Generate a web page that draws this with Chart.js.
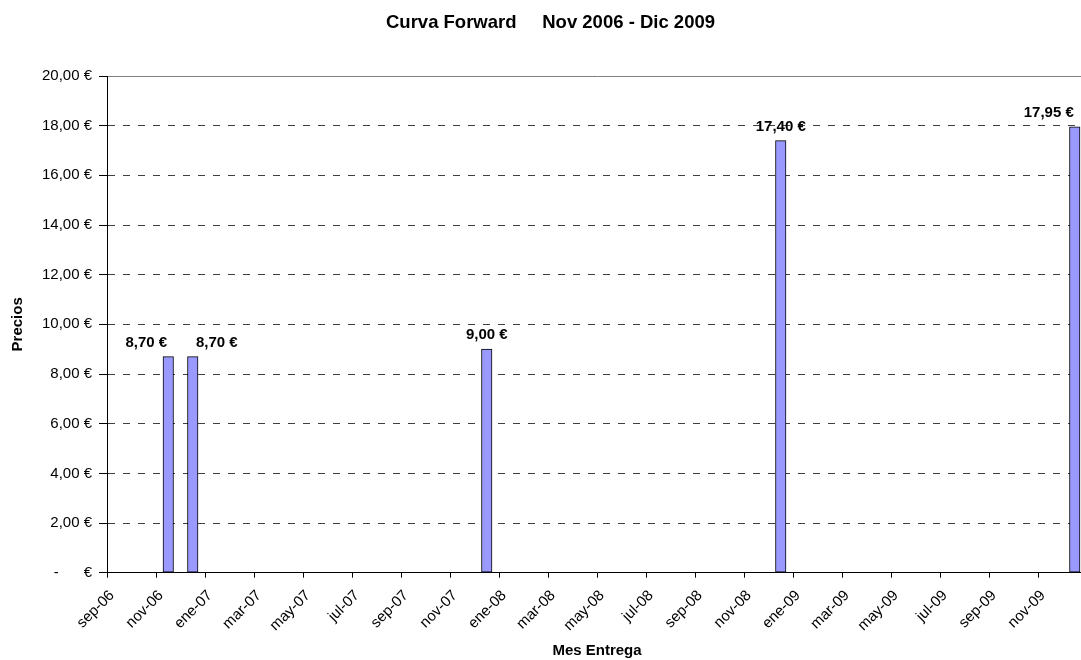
<!DOCTYPE html>
<html>
<head>
<meta charset="utf-8">
<script src="https://cdn.jsdelivr.net/npm/chart.js@4/dist/chart.umd.min.js"></script>
<style>
  html, body { margin: 0; padding: 0; background: #fff; overflow: hidden; }
  #wrap { width: 1081px; height: 660px; overflow: hidden; }
  canvas { display: block; }
</style>
</head>
<body>
<div id="wrap"><canvas id="chart" width="1100" height="660"></canvas></div>
<script>
// Delivery months and forward prices (EUR)
const deliveryMonths = ['nov-06', 'dic-06', 'dic-07', 'dic-08', 'dic-09'];
const prices = [8.70, 8.70, 9.00, 17.40, 17.95];

// Bottom axis labels, one every two months starting at sep-06
const monthTickLabels = ['sep-06', 'nov-06', 'ene-07', 'mar-07', 'may-07', 'jul-07', 'sep-07', 'nov-07',
  'ene-08', 'mar-08', 'may-08', 'jul-08', 'sep-08', 'nov-08', 'ene-09', 'mar-09', 'may-09', 'jul-09',
  'sep-09', 'nov-09'];

const chartTitle = 'Curva Forward     Nov 2006 - Dic 2009';

const monthNames = ['ene', 'feb', 'mar', 'abr', 'may', 'jun', 'jul', 'ago', 'sep', 'oct', 'nov', 'dic'];
const axisStart = monthTickLabels[0];

// Months elapsed since the first month of the axis
function monthIndex(label) {
  const [m, y] = label.split('-');
  const [m0, y0] = axisStart.split('-');
  return (parseInt(y, 10) - parseInt(y0, 10)) * 12 + monthNames.indexOf(m) - monthNames.indexOf(m0);
}

const euro = v => v.toFixed(2).replace('.', ',') + ' €';

const FONT = "'Liberation Sans', Arial, sans-serif";
Chart.defaults.font.family = FONT;
Chart.defaults.color = '#000';

// Heading and bold value labels above each bar
const annotations = {
  id: 'annotations',
  afterDatasetsDraw(chart, args, opts) {
    const ctx = chart.ctx;
    const meta = chart.getDatasetMeta(0);
    ctx.save();
    ctx.fillStyle = '#000';
    ctx.textAlign = 'center';
    ctx.textBaseline = 'alphabetic';

    ctx.font = 'bold 18.5px ' + FONT;
    ctx.fillText(chartTitle, opts.titleX, opts.titleBaseline);

    ctx.font = 'bold 15px ' + FONT;
    meta.data.forEach((bar, i) => {
      const shift = (opts.shifts && opts.shifts[i]) || 0;
      ctx.fillText(euro(prices[i]), bar.x + shift, bar.y - 10);
    });
    ctx.restore();
  }
};

new Chart(document.getElementById('chart'), {
  type: 'bar',
  data: {
    datasets: [{
      data: deliveryMonths.map((m, i) => ({ x: monthIndex(m) + 0.5, y: prices[i] })),
      backgroundColor: '#9999FF',
      borderColor: '#000',
      borderWidth: 1,
      borderSkipped: false,
      barThickness: 10.5
    }]
  },
  options: {
    responsive: false,
    animation: false,
    events: [],
    layout: { padding: { left: 0, right: 13, top: 76, bottom: 0 } },
    plugins: {
      legend: { display: false },
      tooltip: { enabled: false },
      title: { display: false },
      annotations: { shifts: [-22, 24, 0, 0, -26], titleX: 550.5, titleBaseline: 28 }
    },
    scales: {
      x: {
        type: 'linear',
        min: 0,
        max: 40,
        offset: false,
        afterBuildTicks(scale) {
          scale.ticks = monthTickLabels.map((_, i) => ({ value: i * 2 }));
        },
        afterFit(scale) { scale.height = 87.3; },
        ticks: {
          autoSkip: false,
          minRotation: 45,
          maxRotation: 45,
          padding: 9,
          labelOffset: 5,
          font: { size: 15 },
          color: '#000',
          callback: (v) => monthTickLabels[Math.round(v / 2)]
        },
        grid: {
          offset: false,
          drawOnChartArea: false,
          drawTicks: true,
          tickLength: 5,
          tickColor: '#000'
        },
        border: { display: true, color: '#000', width: 1 },
        title: {
          display: true,
          text: 'Mes Entrega',
          font: { size: 15, weight: 'bold' },
          color: '#000',
          padding: { top: 0, bottom: 0 }
        }
      },
      y: {
        min: 0,
        max: 20,
        afterFit(scale) { scale.width = 107; },
        ticks: {
          stepSize: 2,
          padding: 7,
          font: { size: 15 },
          color: '#000',
          callback: (v) => v === 0 ? '-      €' : euro(v)
        },
        grid: {
          color: ctx => ctx.tick && ctx.tick.value === 20 ? '#808080' : '#404040',
          lineWidth: 1,
          tickLength: 8,
          tickColor: '#000'
        },
        border: {
          display: true,
          color: '#000',
          width: 1,
          dash: ctx => ctx.tick && ctx.tick.value === 20 ? [] : [7, 8]
        },
        title: {
          display: true,
          text: 'Precios',
          font: { size: 15, weight: 'bold' },
          color: '#000',
          padding: { top: 9, bottom: 0 }
        }
      }
    }
  },
  plugins: [annotations]
});
</script>
</body>
</html>
